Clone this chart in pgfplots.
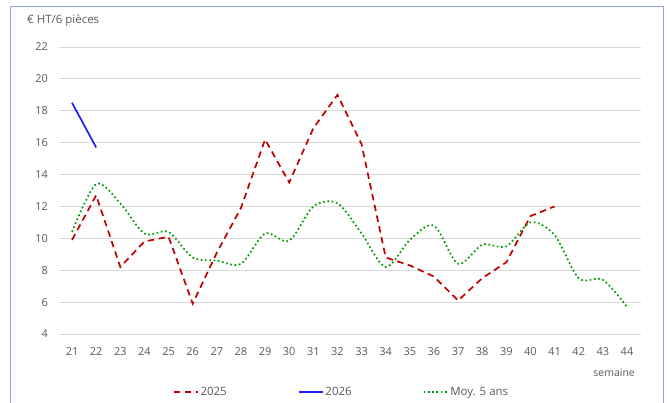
\documentclass[border=0pt]{standalone}
\usepackage{fontspec}
\setmainfont{Open Sans}
\usepackage{pgfplots}
\pgfplotsset{compat=1.18}
\definecolor{txt}{HTML}{595959}
\definecolor{gridc}{HTML}{D9D9D9}
\definecolor{r25}{HTML}{C00000}
\definecolor{b26}{HTML}{2020F0}
\definecolor{g5}{HTML}{009A00}
\definecolor{framec}{HTML}{8FA5DD}
\begin{document}
\begin{tikzpicture}
\useasboundingbox (0bp,0bp) rectangle (667bp,403bp);
\draw[framec, line width=1.2bp] (10.5bp,-20bp) -- (10.5bp,396.5bp) -- (663.5bp,396.5bp) -- (663.5bp,-20bp);
\begin{axis}[
  at={(59bp,69bp)}, anchor=south west,
  scale only axis, width=582bp, height=287bp,
  xmin=20.46, xmax=44.58, ymin=4, ymax=22,
  xtick={21,...,44}, ytick={4,6,...,22},
  axis line style={draw=none}, major tick length=0pt,
  ymajorgrids, grid style={gridc, line width=0.9bp},
  tick label style={font=\fontsize{11}{13}\selectfont, text=txt},
  /pgf/number format/assume math mode=true,
  xticklabel style={yshift=-10bp},
  yticklabel style={xshift=-7.5bp},
  legend columns=3,
  legend style={at={(0.4854,-0.202)}, anchor=center, draw=none, fill=none,
    font=\fontsize{11.5}{13}\selectfont, text=txt, inner sep=0pt,
    /tikz/every even column/.append style={column sep=69bp}},
  legend image code/.code={\draw[#1] (0bp,0bp) -- (24bp,0bp);},
]
\addplot[r25, line width=1.7bp, dash pattern=on 6.5bp off 4.5bp] coordinates {
 (21,9.9) (22,12.7) (23,8.2) (24,9.8) (25,10.1) (26,5.9) (27,9.1) (28,11.9)
 (29,16.2) (30,13.5) (31,16.9) (32,19.0) (33,15.9) (34,8.8) (35,8.3) (36,7.6)
 (37,6.1) (38,7.5) (39,8.5) (40,11.4) (41,12.0)};
\addlegendentry{2025}
\addplot[b26, line width=1.7bp] coordinates {(21,18.5) (22,15.7)};
\addlegendentry{2026}
\addplot[g5, line width=1.7bp, dash pattern=on 1.7bp off 2.6bp, smooth] coordinates {
 (21,10.4) (22,13.4) (23,12.2) (24,10.3) (25,10.4) (26,8.8) (27,8.6) (28,8.4)
 (29,10.3) (30,9.85) (31,12.0) (32,12.2) (33,10.3) (34,8.2) (35,9.9) (36,10.8)
 (37,8.4) (38,9.6) (39,9.5) (40,11.0) (41,10.2) (42,7.5) (43,7.4) (44,5.7)};
\addlegendentry{Moy. 5 ans}
\end{axis}
\node[anchor=west, inner sep=0pt, text=txt, font=\fontsize{11.5}{13}\selectfont] at (27bp,382.5bp) {€ HT/6 pièces};
\node[anchor=east, inner sep=0pt, text=txt, font=\fontsize{10.5}{12}\selectfont] at (635bp,30.5bp) {semaine};
\end{tikzpicture}
\end{document}
